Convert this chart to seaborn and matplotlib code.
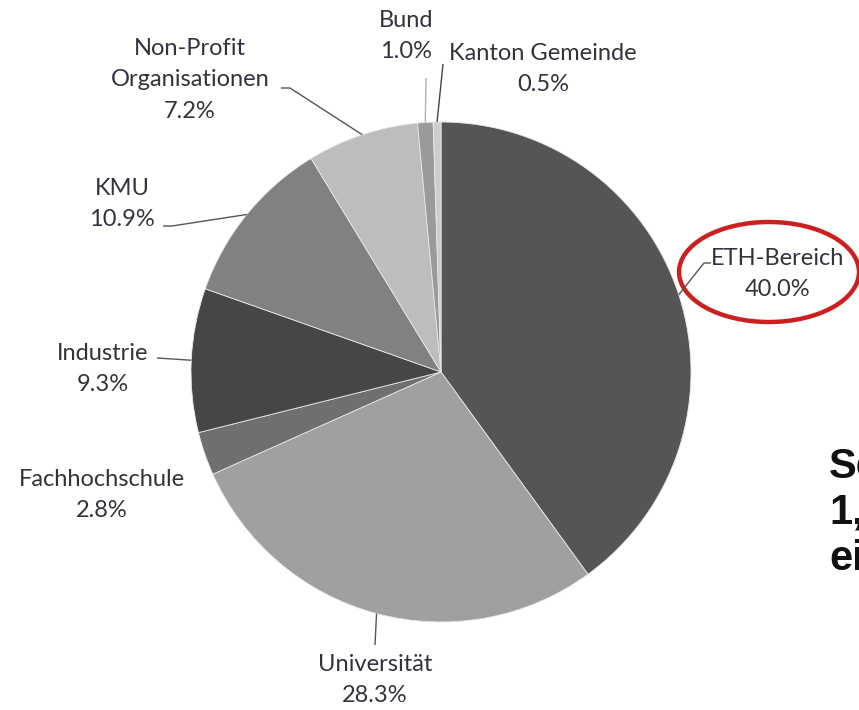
import numpy as np
import matplotlib
matplotlib.use("Agg")
import matplotlib.pyplot as plt
from matplotlib.patches import Ellipse
import seaborn as sns

# data
labels = ["ETH-Bereich", "Universität", "Fachhochschule", "Industrie", "KMU",
          "Non-Profit\nOrganisationen", "Bund", "Kanton Gemeinde"]
shares = [40.0, 28.3, 2.8, 9.3, 10.9, 7.2, 1.0, 0.5]
greys = ["#555555", "#a0a0a0", "#6f6f6f", "#464646", "#818181", "#bdbdbd", "#9a9a9a", "#cdcdcd"]

W, H = 859, 710
cx, cy, R = 441, 372, 250

# label layout in pixel coords (x, y) and leader end points (None = no line)
text_pos = [(778, 274), (375, 680), (102, 495), (103, 369), (122, 204),
            (190, 80), (406, 36), (543, 69)]
leader = [[(704, 263), (711, 263)], [(375, 645)], None, [(157, 358)],
          [(172, 226), (163, 226)], [(290, 88), (281, 88)], [(426, 78)], [(443, 64)]]
leader_col = ["#555555", "#555555", None, "#555555", "#555555", "#555555", "#b0b0b0", "#444444"]

sns.set_theme(style="white")
plt.rcParams['font.family'] = ['Lato', 'DejaVu Sans']

fig = plt.figure(figsize=(W / 100, H / 100), dpi=100)
ax = fig.add_axes([0, 0, 1, 1])

def py(y):
    return H - y

wedges, _ = ax.pie(shares, colors=greys, startangle=90, counterclock=False,
                   center=(cx, py(cy)), radius=R, frame=True,
                   wedgeprops=dict(linewidth=0.6, edgecolor="#e8e8e8"))
ax.set_xlim(0, W)
ax.set_ylim(0, H)
ax.set_aspect("auto")
ax.axis("off")

for i, w in enumerate(wedges):
    mid = np.deg2rad((w.theta1 + w.theta2) / 2)
    ax0 = cx + R * np.cos(mid)
    ay0 = py(cy) + R * np.sin(mid)
    txt = labels[i] + "\n" + f"{shares[i]:.1f}%"
    tx, ty = text_pos[i]
    ax.text(tx, py(ty), txt, ha="center", va="center", fontsize=17,
            color="#333340", linespacing=1.62)
    if leader[i] is not None:
        xs = [ax0] + [p[0] for p in leader[i]]
        ys = [ay0] + [py(p[1]) for p in leader[i]]
        ax.plot(xs, ys, color=leader_col[i], lw=1.0, solid_capstyle="butt")

# red highlight around ETH label
ax.add_patch(Ellipse((769, py(272)), 180, 100, fill=False, edgecolor="#cc2020", lw=3.2))

# cut-off slide text at the right edge
ax.text(829, py(513), "Se\n1,\nei", ha="left", va="center", fontsize=30,
        fontweight="bold", family="Liberation Sans", color="#111111", linespacing=1.2)

fig.savefig("out.png", dpi=100)
